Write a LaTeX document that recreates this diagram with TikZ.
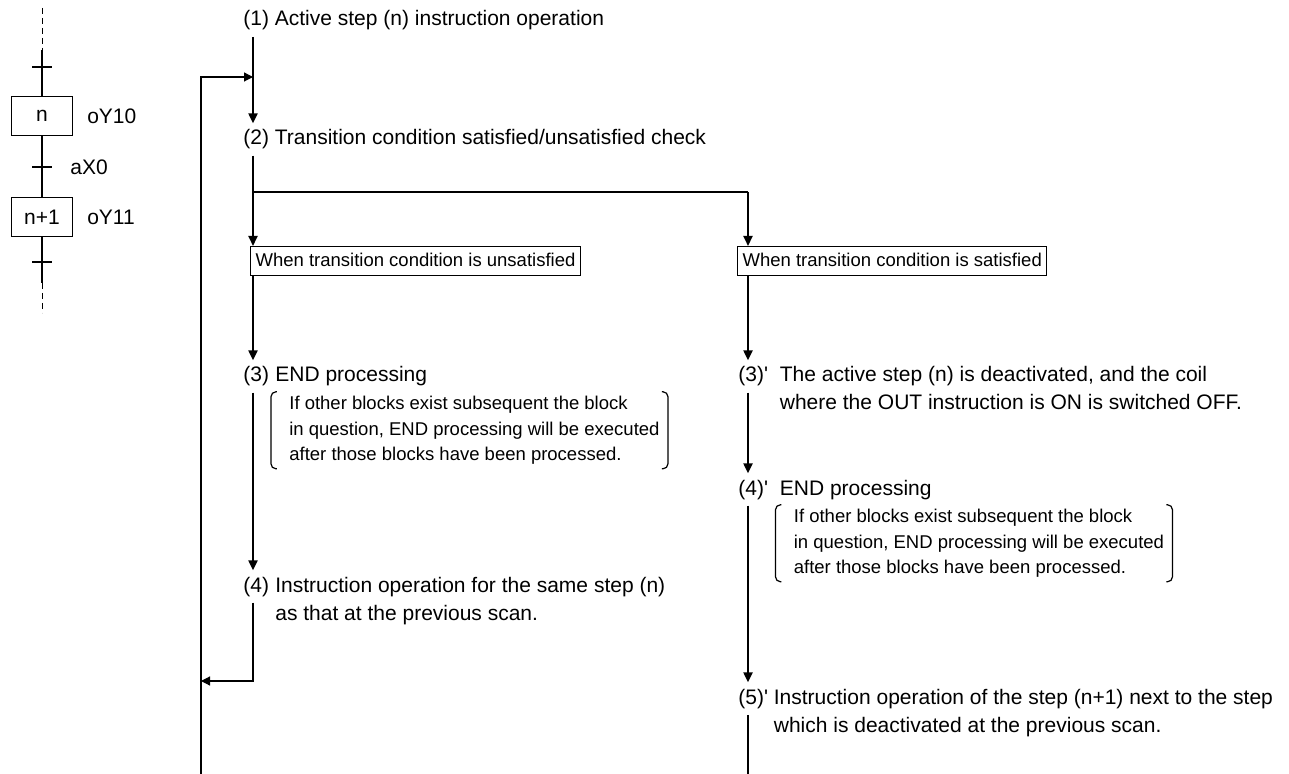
\documentclass[tikz,border=0pt]{standalone}
\usepackage{fontspec}
\setmainfont{Liberation Sans}
\usetikzlibrary{arrows.meta,positioning}

\tikzset{
  txt/.style={font=\fontsize{10.5pt}{14pt}\selectfont,inner xsep=0pt,inner ysep=3pt,align=left},
  small/.style={font=\fontsize{9.25pt}{12.75pt}\selectfont,inner sep=0pt,align=left},
  cond/.style={draw,line width=0.6pt,font=\fontsize{9.25pt}{12.75pt}\selectfont,inner xsep=2.5pt,inner ysep=2.75pt,text height=7pt,text depth=2pt},
  stepbox/.style={draw,line width=0.6pt,minimum width=30.3pt,minimum height=19.2pt,inner sep=0pt,font=\fontsize{10.5pt}{14pt}\selectfont},
  arr/.style={line width=1pt,-{Triangle[length=5pt,width=4.5pt]}},
  tip/.style={-{Triangle[length=4.5pt,width=4.5pt]}},
  thn/.style={line width=0.6pt},
  thk/.style={line width=1pt},
  brk/.style={line width=0.6pt,rounded corners=2.5pt},
  dsh/.style={line width=0.5pt,dash pattern=on 3pt off 2pt}
}

\begin{document}
\begin{tikzpicture}[x=0.5pt,y=-0.5pt]
\useasboundingbox (0,0) rectangle (1289,774);

% SFC on the left
\coordinate (d1) at (42,8);
\coordinate (s1) at (42,50);
\coordinate (t1) at (42,67);
\coordinate (t0) at (42,167);
\coordinate (t2) at (42,262);
\coordinate (s2) at (42,283);
\coordinate (d2) at (42,313);
\node[stepbox] (sn) at (42,116) {n};
\node[stepbox] (sn1) at (42,217) {n+1};
\node[txt,inner ysep=0pt,right=7pt of sn] (y10) {oY10};
\node[txt,inner ysep=0pt,right=7pt of sn1] (y11) {oY11};
\node[txt,inner ysep=0pt,right=14pt of t0] (x0) {aX0};
\draw[dsh](d1)--(s1) (s2)--(d2);
\draw[thk](s1)--(sn.north) (sn.south)--(sn1.north) (sn1.south)--(s2);
\draw[thk]([xshift=-5pt]t1)--([xshift=5pt]t1)
([xshift=-5pt]t0)--([xshift=5pt]t0)
([xshift=-5pt]t2)--([xshift=5pt]t2);

% main flow
\coordinate (sp) at (253,0);
\coordinate (rsp) at (748,0);
\coordinate (jn) at (253,77);
\coordinate (br) at (253,192);
\coordinate (ret) at (201,681);
\coordinate (lbot) at (201,774);
\coordinate (rbot) at (748,774);

\node[txt,anchor=base west] (n1) at (243,26) {(1) Active step (n) instruction operation};
\node[txt,anchor=base west] (n2) at (243,145) {(2) Transition condition satisfied/unsatisfied check};
\node[cond,anchor=north west] (bu) at (250,246) {When transition condition is unsatisfied};
\node[cond,anchor=north west] (bs) at (737,246) {When transition condition is satisfied};

% unsatisfied side
\node[txt,anchor=base west] (n3) at (243,382) {(3)};
\node[txt,anchor=north west] (b3) at ([xshift=2.75pt]n3.north east) {END processing};
\node[small,below right=1.5pt and 7pt of b3.south west] (k3) {If other blocks exist subsequent the block\\in question, END processing will be executed\\after those blocks have been processed.};
\node[txt,anchor=base west] (n4) at (243,592) {(4)};
\node[txt,anchor=north west] (b4) at ([xshift=2.75pt]n4.north east) {Instruction operation for the same step (n)\\as that at the previous scan.};

% satisfied side
\node[txt,anchor=base west] (m3) at (738,382) {(3)\textquotesingle};
\node[txt,anchor=north west] (c3) at ([xshift=5.5pt]m3.north east) {The active step (n) is deactivated, and the coil\\where the OUT instruction is ON is switched OFF.};
\node[txt,anchor=base west] (m4) at (738,495) {(4)\textquotesingle};
\node[txt,anchor=north west] (c4) at ([xshift=5.5pt]m4.north east) {END processing};
\node[small,below right=1.5pt and 7pt of c4.south west] (k4) {If other blocks exist subsequent the block\\in question, END processing will be executed\\after those blocks have been processed.};
\node[txt,anchor=base west] (m5) at (738,704) {(5)\textquotesingle};
\node[txt,anchor=north west] (c5) at ([xshift=2.5pt]m5.north east) {Instruction operation of the step (n+1) next to the step\\which is deactivated at the previous scan.};

% brackets
\draw[brk]([xshift=-6pt,yshift=2pt]k3.north west)--([xshift=-9pt,yshift=2pt]k3.north west)--([xshift=-9pt,yshift=-2pt]k3.south west)--([xshift=-6pt,yshift=-2pt]k3.south west);
\draw[brk]([xshift=1pt,yshift=2pt]k3.north east)--([xshift=4pt,yshift=2pt]k3.north east)--([xshift=4pt,yshift=-2pt]k3.south east)--([xshift=1pt,yshift=-2pt]k3.south east);
\draw[brk]([xshift=-6pt,yshift=2pt]k4.north west)--([xshift=-9pt,yshift=2pt]k4.north west)--([xshift=-9pt,yshift=-2pt]k4.south west)--([xshift=-6pt,yshift=-2pt]k4.south west);
\draw[brk]([xshift=1pt,yshift=2pt]k4.north east)--([xshift=4pt,yshift=2pt]k4.north east)--([xshift=4pt,yshift=-2pt]k4.south east)--([xshift=1pt,yshift=-2pt]k4.south east);

% connectors
\draw[arr](n1.south -| sp)--(n2.north -| sp);
\draw[thn,tip](lbot)|-(jn);
\draw[arr](n2.south -| sp)--(bu.north -| sp);
\draw[thn](br)--(br -| rsp);
\draw[arr](br -| rsp)--(bs.north -| rsp);
\draw[arr](bu.south -| sp)--(n3.north -| sp);
\draw[arr](n3.south -| sp)--(n4.north -| sp);
\draw[thn,tip](n4.south -| sp)|-(ret);
\draw[arr](bs.south -| rsp)--(m3.north -| rsp);
\draw[arr](m3.south -| rsp)--(m4.north -| rsp);
\draw[arr](m4.south -| rsp)--(m5.north -| rsp);
\draw[thn](m5.south -| rsp)--(rbot);
\end{tikzpicture}
\end{document}
